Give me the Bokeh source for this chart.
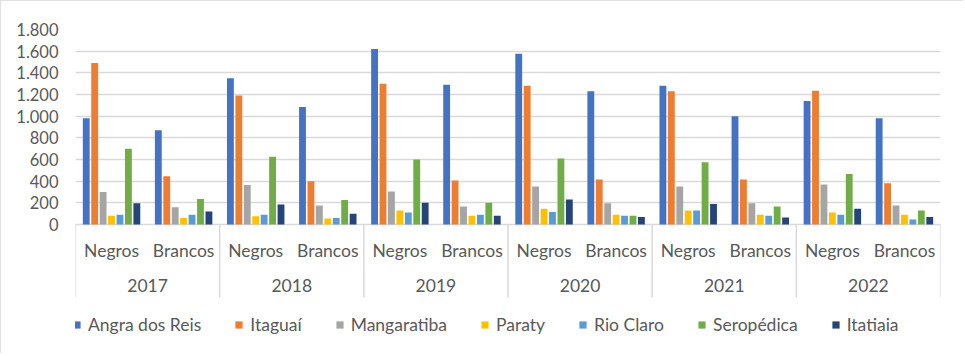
from bokeh.plotting import figure
from bokeh.models import (FactorRange, Range1d, ColumnDataSource, FixedTicker,
                          CustomJSTickFormatter, Legend, LegendItem, InlineStyleSheet)
from bokeh.transform import dodge
from bokeh.core.properties import value
from bokeh.embed import file_html
from bokeh.resources import INLINE

# ---------------- data ----------------
years = ["2017", "2018", "2019", "2020", "2021", "2022"]
groups = ["Negros", "Brancos"]
series_names = ["Angra dos Reis", "Itaguaí", "Mangaratiba", "Paraty",
                "Rio Claro", "Seropédica", "Itatiaia"]
# values ordered 2017 Negros, 2017 Brancos, 2018 Negros, ...
angra = [980, 870, 1350, 1085, 1620, 1290, 1575, 1230, 1280, 1000, 1140, 980]
itaguai = [1490, 445, 1190, 400, 1300, 405, 1280, 415, 1230, 415, 1235, 380]
mangaratiba = [300, 160, 365, 175, 305, 165, 350, 195, 350, 195, 370, 175]
paraty = [80, 60, 75, 55, 130, 80, 145, 90, 130, 90, 110, 90]
rio_claro = [90, 90, 90, 60, 110, 90, 115, 80, 130, 80, 90, 45]
seropedica = [700, 235, 625, 225, 600, 200, 610, 80, 575, 165, 465, 130]
itatiaia = [195, 120, 185, 100, 200, 80, 230, 70, 190, 65, 145, 70]
y_ticks = [0, 200, 400, 600, 800, 1000, 1200, 1400, 1600, 1800]

# ---------------- styles ----------------
colors = ["#4472C4", "#ED7D31", "#A5A5A5", "#FFC000", "#5B9BD5", "#70AD47", "#264478"]
FONT = "Lato"
TXT = "#595959"
GRID = "#d9d9d9"
slot = 0.117
bar_w = 0.095
y_bottom = -1117
sub_label_y = -240
year_label_y = -563
sep_bottom = -674

factors = [(y, g) for y in years for g in groups]
x_range = FactorRange(*factors, factor_padding=0, group_padding=0, range_padding=0)

p = figure(x_range=x_range, y_range=Range1d(y_bottom, 1800),
           output_backend="svg", toolbar_location=None,
           frame_width=865, frame_height=316,
           min_border_left=75, min_border_right=23,
           min_border_top=29, min_border_bottom=8)
p.stylesheets = [InlineStyleSheet(
    css=":host { outline: 2px solid #d9d9d9; outline-offset: -2px; }")]
p.outline_line_color = None
p.background_fill_color = "white"
p.border_fill_color = "white"

p.xaxis.visible = False
p.xgrid.visible = False
yax = p.yaxis[0]
yax.ticker = FixedTicker(ticks=y_ticks)
yax.formatter = CustomJSTickFormatter(
    code='return Math.round(tick).toString().replace(/\\B(?=(\\d{3})+(?!\\d))/g, ".");')
yax.axis_line_color = None
yax.major_tick_line_color = None
yax.minor_tick_line_color = None
yax.major_tick_out = 0
yax.major_label_standoff = 17
yax.major_label_text_font = FONT
yax.major_label_text_font_size = "16.5px"
yax.major_label_text_color = TXT
p.ygrid.ticker = FixedTicker(ticks=y_ticks)
p.ygrid.grid_line_color = GRID
p.ygrid.grid_line_width = 1.5

all_series = [angra, itaguai, mangaratiba, paraty, rio_claro, seropedica, itatiaia]
data = {"x": factors}
for i, s in enumerate(all_series):
    data[f"s{i}"] = s
src = ColumnDataSource(data)

items = []
n = len(all_series)
for i in range(n):
    off = (i - (n - 1) / 2) * slot
    r = p.vbar(x=dodge("x", off, range=p.x_range), top=f"s{i}", bottom=0,
               width=bar_w, source=src, fill_color=colors[i], line_color=None)
    items.append(LegendItem(label=series_names[i], renderers=[r]))

# category separators
sep_src = ColumnDataSource({"x": [(y, groups[0]) for y in years]})
p.segment(x0=dodge("x", -0.5, range=p.x_range), x1=dodge("x", -0.5, range=p.x_range),
          y0=0, y1=sep_bottom, source=sep_src, line_color=GRID, line_width=1.5)
end_src = ColumnDataSource({"x": [(years[-1], groups[-1])]})
p.segment(x0=dodge("x", 0.5, range=p.x_range), x1=dodge("x", 0.5, range=p.x_range),
          y0=0, y1=sep_bottom, source=end_src, line_color=GRID, line_width=1.5)

# sub-category labels
lab_src = ColumnDataSource({"x": factors, "t": [f[1] for f in factors]})
p.text(x="x", y=sub_label_y, text="t", source=lab_src, text_align="center",
       text_baseline="middle", text_font=value(FONT), text_font_size="17.5px",
       text_color=TXT)
# year labels
yr_src = ColumnDataSource({"x": [(y, groups[0]) for y in years], "t": years})
p.text(x=dodge("x", 0.5, range=p.x_range), y=year_label_y, text="t", source=yr_src,
       text_align="center", text_baseline="middle", text_font=value(FONT),
       text_font_size="17.5px", text_color=TXT)

legend = Legend(items=items, orientation="horizontal", location=(-3, 10),
                glyph_width=9, glyph_height=9, label_standoff=7, spacing=33,
                padding=0, margin=0, border_line_color=None,
                background_fill_alpha=0,
                label_text_font=FONT, label_text_font_size="17.5px",
                label_text_color=TXT)
p.add_layout(legend, "center")

open("out.html", "w").write(file_html(p, INLINE))
